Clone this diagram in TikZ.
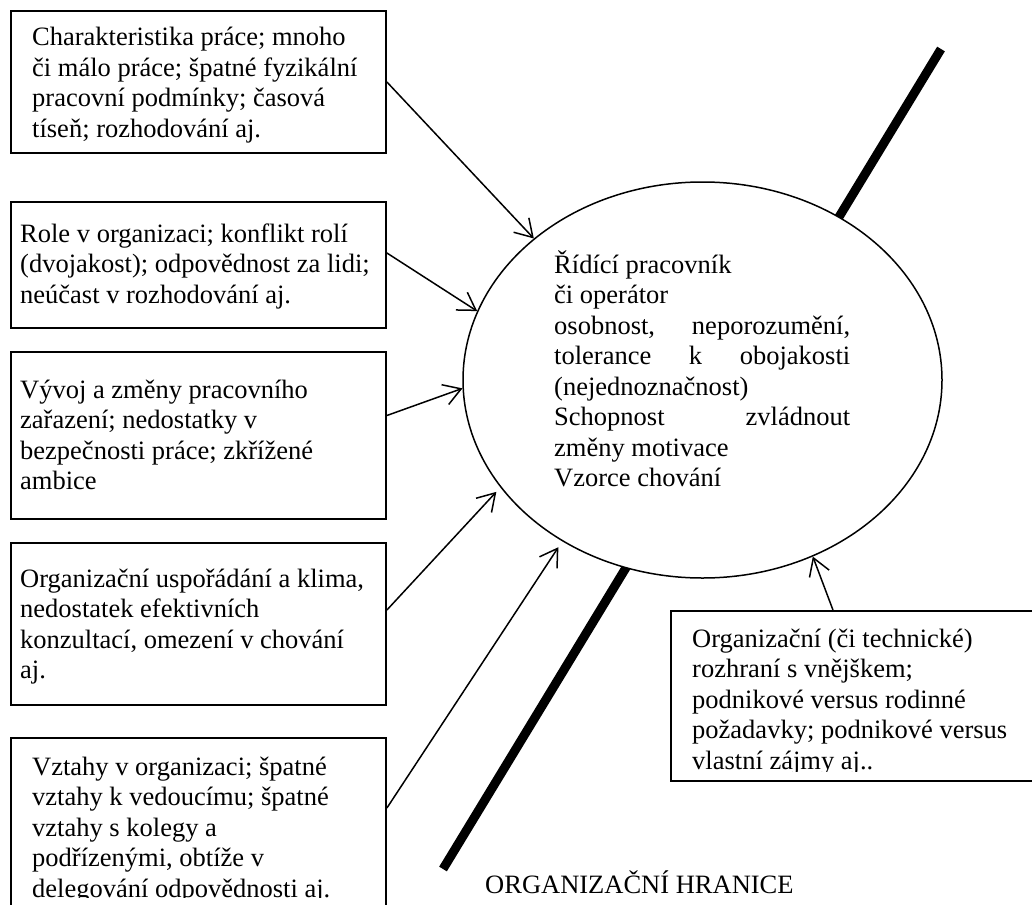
\documentclass[tikz,border=0pt]{standalone}
\usepackage{fontspec}
\setmainfont{Liberation Serif}
\usetikzlibrary{arrows.meta,shapes.geometric}
\newcommand\txtblock[2]{\parbox[t]{#1}{#2}}
\begin{document}
\begin{tikzpicture}[x=1pt,y=-1pt,
  box/.style={draw, rectangle, line width=1.8pt, minimum width=375pt, inner sep=0pt},
  txt/.style={anchor=base west, inner sep=0pt, font=\fontsize{26.5pt}{30.5pt}\selectfont},
  conn/.style={line width=1.5pt, -{Straight Barb[length=17pt,width=21pt,line width=1.5pt]}},
  boundary/.style={line width=9pt},
  oval/.style={draw, ellipse, fill=white, line width=1.5pt, inner sep=0pt}
]
\useasboundingbox (0,0) rectangle (1032,904);

% organisational boundary
\coordinate (bt) at (941,49);
\coordinate (bb) at (443,869);
\draw[boundary] (bt) -- (bb);

% central ellipse
\node[oval, minimum width=479pt, minimum height=396pt] (E) at (702.5,380) {};
\node[txt] (te) at (554,273) {\txtblock{296pt}{Řídící pracovník\\či operátor\\osobnost,\hfill neporozumění,\\tolerance\hfill k\hfill obojakosti\\(nejednoznačnost)\\Schopnost\hfill zvládnout\\změny motivace\\Vzorce chování}};

% boxes
\node[box, minimum height=142pt] (b1) at (198.5,82) {};
\node[box, minimum height=126pt] (b2) at (198.5,265) {};
\node[box, minimum height=167pt] (b3) at (198.5,435.5) {};
\node[box, minimum height=162pt] (b4) at (198.5,624) {};
\node[box, minimum height=192pt] (b5) at (198.5,834) {};
\node[box, minimum width=374pt, minimum height=170pt] (rb) at (858,696) {};

\node[txt] (t1) at (32,46) {\txtblock{360pt}{Charakteristika práce; mnoho\\či málo práce; špatné fyzikální\\pracovní podmínky; časová\\tíseň; rozhodování aj.}};
\node[txt] (t2) at (20,242) {\txtblock{365pt}{Role v organizaci; konflikt rolí\\(dvojakost); odpovědnost za lidi;\\neúčast v rozhodování aj.}};
\node[txt] (t3) at (20,398) {\txtblock{365pt}{Vývoj a změny pracovního\\zařazení; nedostatky v\\bezpečnosti práce; zkřížené\\ambice}};
\node[txt] (t4) at (20,587) {\txtblock{365pt}{Organizační uspořádání a klima,\\nedostatek efektivních\\konzultací, omezení v chování\\aj.}};
\begin{scope}
  \clip (11,738) rectangle (386,897);
  \node[txt] (t5) at (32,775) {\txtblock{360pt}{Vztahy v organizaci; špatné\\vztahy k vedoucímu; špatné\\vztahy s kolegy a\\podřízenými, obtíže v\\delegování odpovědnosti aj.}};
\end{scope}
\begin{scope}
  \clip (671,611) rectangle (1032,771);
  \node[txt] (t6) at (692,647) {\txtblock{340pt}{Organizační (či technické)\\rozhraní s vnějškem;\\podnikové versus rodinné\\požadavky; podnikové versus\\vlastní zájmy aj..}};
\end{scope}

\node[txt] (lab) at (485,893) {ORGANIZAČNÍ HRANICE};

% connectors
\draw[conn] (b1.east) -- (E.140);
\draw[conn] ([yshift=12pt]b2.east) -- (E.163);
\draw[conn] ([yshift=20pt]b3.east) -- (E.182);
\draw[conn, shorten >=6pt] ([yshift=14pt]b4.east) -- (E.208);
\draw[conn, shorten >=7pt] ([yshift=26pt]b5.east) -- (E.229);
\draw[conn] ([xshift=-25pt]rb.north) -- (E.302);
\end{tikzpicture}
\end{document}
